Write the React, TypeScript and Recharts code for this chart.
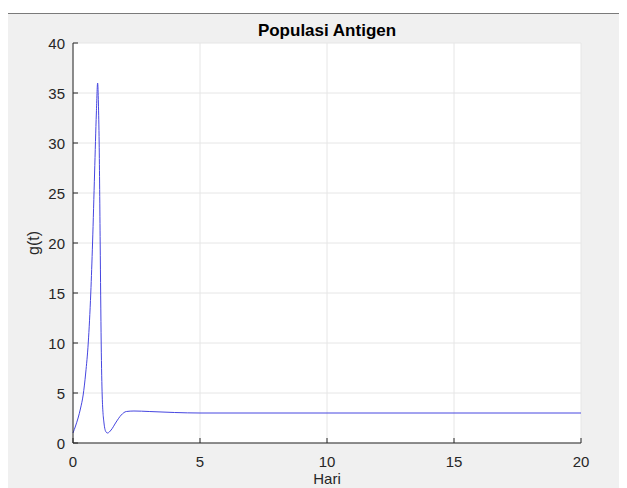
import React from 'react';
import { LineChart, Line, XAxis, YAxis, CartesianGrid } from 'recharts';

const T_VALUES = [
  0, 0.1, 0.2, 0.3, 0.4, 0.5, 0.6, 0.7, 0.77, 0.85, 0.92, 0.97, 1.0, 1.03, 1.07,
  1.11, 1.15, 1.22, 1.3, 1.36, 1.5, 1.7, 1.9, 2.1, 2.4, 3, 4, 5, 10, 15, 20,
];
const G_VALUES = [
  1.0, 1.7, 2.5, 3.5, 4.8, 7, 10, 15, 20, 27, 33, 36, 34, 30, 20,
  10, 4.7, 2, 1.1, 1.0, 1.3, 2.1, 2.8, 3.15, 3.2, 3.15, 3.05, 3.0, 3.0, 3.0, 3.0,
];
const X_TICKS = [0, 5, 10, 15, 20];
const Y_TICKS = [0, 5, 10, 15, 20, 25, 30, 35, 40];

const data = T_VALUES.map((t, i) => ({ t, g: G_VALUES[i] }));

const FONT = '"Liberation Sans", Arial, Helvetica, sans-serif';
const INK = '#262626';

const XTick = (props: any) => {
  const { x, y, payload } = props;
  return (
    <g>
      <line x1={x} y1={y} x2={x} y2={y - 5} stroke={INK} />
      <text x={x} y={y + 18} textAnchor="middle" dominantBaseline="central" fill={INK} fontSize={15} fontFamily={FONT}>
        {payload.value}
      </text>
    </g>
  );
};

const YTick = (props: any) => {
  const { x, y, payload } = props;
  return (
    <g>
      <line x1={x} y1={y} x2={x + 5} y2={y} stroke={INK} />
      <text x={x - 8} y={y} textAnchor="end" dominantBaseline="central" fill={INK} fontSize={15} fontFamily={FONT}>
        {payload.value}
      </text>
    </g>
  );
};

const App: React.FC = () => {
  return (
    <div
      style={{
        marginTop: 5,
        width: 619,
        height: 474,
        background: '#f0f0f0',
        borderTop: '1px solid #7a7a7a',
        position: 'relative',
        overflow: 'hidden',
      }}
    >
      <div
        style={{
          position: 'absolute',
          top: 7,
          left: 65,
          width: 508,
          textAlign: 'center',
          fontFamily: FONT,
          fontWeight: 'bold',
          fontSize: 17,
          color: '#000',
          lineHeight: '20px',
        }}
      >
        Populasi Antigen
      </div>
      <LineChart width={619} height={474} data={data} margin={{ top: 29, right: 46, bottom: 0, left: 0 }}>
        <CartesianGrid stroke="#e6e6e6" fill="#ffffff" horizontalValues={Y_TICKS} verticalValues={X_TICKS} />
        <XAxis
          dataKey="t"
          type="number"
          domain={[0, 20]}
          ticks={X_TICKS}
          height={45}
          tickSize={0}
          tickMargin={0}
          tick={<XTick />}
          axisLine={{ stroke: INK }}
          label={{ value: 'Hari', position: 'insideBottom', offset: 4, fill: INK, fontSize: 15, fontFamily: FONT }}
        />
        <YAxis
          type="number"
          domain={[0, 40]}
          ticks={Y_TICKS}
          width={65}
          tickSize={0}
          tickMargin={0}
          tick={<YTick />}
          axisLine={{ stroke: INK }}
          label={({ viewBox }: any) => (
            <text
              x={viewBox.x + 25}
              y={viewBox.y + viewBox.height / 2}
              transform={`rotate(-90, ${viewBox.x + 25}, ${viewBox.y + viewBox.height / 2})`}
              textAnchor="middle"
              dominantBaseline="central"
              fill={INK}
              fontSize={16}
              fontFamily={FONT}
            >
              g(t)
            </text>
          )}
        />
        <Line
          type="monotone"
          dataKey="g"
          stroke="#4646e0"
          strokeWidth={1}
          dot={false}
          isAnimationActive={false}
        />
      </LineChart>
    </div>
  );
};

export default App;
